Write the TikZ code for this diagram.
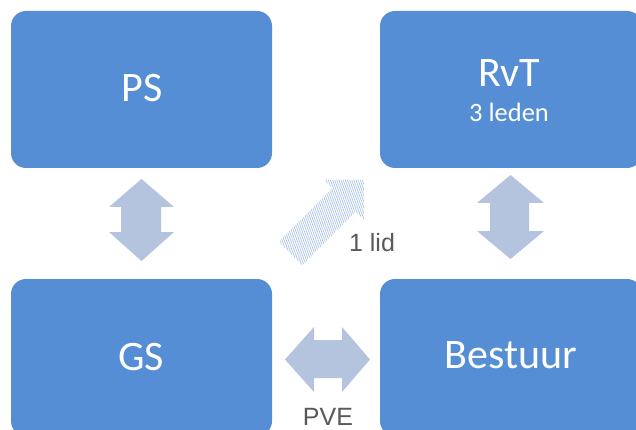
\documentclass[tikz,border=0pt]{standalone}
\usepackage{fontspec}
\setmainfont{Carlito}
\newfontfamily\arialfont{Liberation Sans}
\usetikzlibrary{patterns.meta}
\definecolor{boxblue}{HTML}{558ED5}
\definecolor{arrowfill}{HTML}{B4C4DF}
\definecolor{hatchblue}{HTML}{A9C2EA}
\definecolor{labelgray}{HTML}{595959}
\tikzset{
  orgbox/.style={draw=none, fill=boxblue, rounded corners=15pt, inner sep=0pt, outer sep=0pt},
  boxtext/.style={text=white, font=\fontsize{42}{50}\selectfont, anchor=base, inner sep=0pt},
  subtext/.style={text=white, font=\fontsize{26.5}{30}\selectfont, anchor=base, inner sep=0pt},
  lbl/.style={text=labelgray, font=\arialfont\fontsize{25}{30}\selectfont, anchor=base, inner sep=0pt},
  blockarrow/.style={fill=arrowfill, draw=none},
  hatcharrow/.style={draw=none, pattern={Lines[angle=110, distance=2pt, line width=0.7pt]}, pattern color=hatchblue}
}
\begin{document}
\begin{tikzpicture}[x=1pt, y=-1pt]
\useasboundingbox (0,0) rectangle (636,430);
\clip (0,0) rectangle (636,430);
\fill[white] (0,0) rectangle (636,430);
% boxes
\node[orgbox, minimum width=261pt, minimum height=157pt, anchor=north west] (ps) at (11,11) {};
\node[orgbox, minimum width=262pt, minimum height=157pt, anchor=north west] (rvt) at (380,11) {};
\node[orgbox, minimum width=261pt, minimum height=157pt, anchor=north west] (gs) at (11,279) {};
\node[orgbox, minimum width=262pt, minimum height=157pt, anchor=north west] (bestuur) at (380,279) {};
% texts
\node[boxtext] (pstext) at (142,102) {PS};
\node[boxtext] (rvttext) at (509,87) {RvT};
\node[subtext] (rvtsub) at (509,122) {3 leden};
\node[boxtext] (gstext) at (141,370) {GS};
\node[boxtext] (bestuurtext) at (511,368) {Bestuur};
% vertical double arrow PS <-> GS
\fill[blockarrow] (141.5,179) -- (174,207) -- (161,207) -- (161,232) -- (174,232) -- (141.5,261)
  -- (109,232) -- (121,232) -- (121,207) -- (109,207) -- cycle;
% vertical double arrow RvT <-> Bestuur
\fill[blockarrow] (510.5,175) -- (544,203) -- (529,203) -- (529,231) -- (544,231) -- (510.5,259)
  -- (477,231) -- (490,231) -- (490,203) -- (477,203) -- cycle;
% horizontal double arrow GS <-> Bestuur
\fill[blockarrow] (285,359.5) -- (314,327) -- (314,340) -- (342,340) -- (342,327) -- (370,359.5)
  -- (342,392) -- (342,378) -- (314,378) -- (314,392) -- cycle;
% hatched diagonal arrow
\fill[hatcharrow] (278.8,241.8) -- (332.5,188.1) -- (324.4,180) -- (364,180) -- (364,219.6)
  -- (355.9,211.5) -- (302.2,265.2) -- cycle;
% labels
\node[lbl] (lid) at (372,251) {1 lid};
\node[lbl] (pve) at (328,425) {PVE};
\end{tikzpicture}
\end{document}
